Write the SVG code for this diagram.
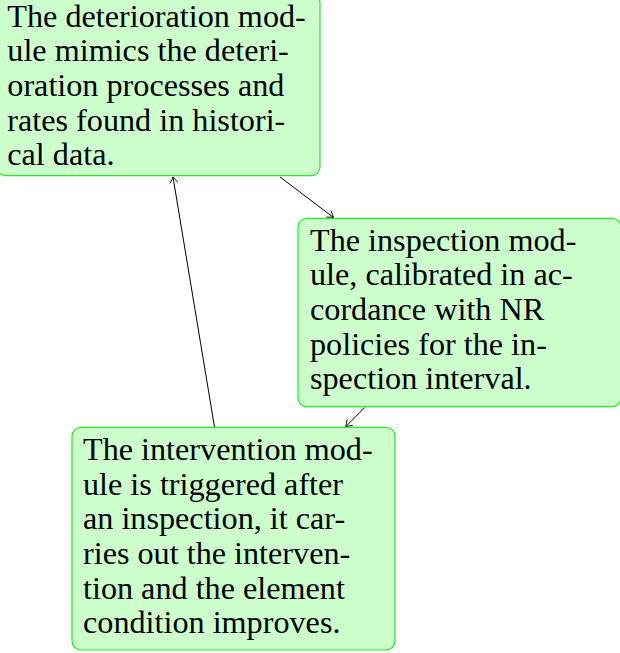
<svg xmlns="http://www.w3.org/2000/svg" width="620" height="653" viewBox="0 0 620 653">
<style>
.box{fill:#ccffcc;stroke:#22ee22;stroke-width:1.2}
.t{font-family:'Liberation Serif','DejaVu Serif',serif;font-size:32.2px;fill:#000}
.edge{stroke:#000;stroke-width:1;fill:none;marker-end:url(#arr)}
</style>
<defs>
<marker id="arr" markerUnits="userSpaceOnUse" markerWidth="12" markerHeight="12" viewBox="-8 -6 10 12" refX="0" refY="0" orient="auto">
<path d="M-6,-4 Q-2,-1 0,0 Q-2,1 -6,4" fill="none" stroke="#000" stroke-width="0.9"/>
</marker>
</defs>
<g id="edges">
<line class="edge" x1="280" y1="177" x2="333.5" y2="217.5"/>
<line class="edge" x1="365" y1="407.3" x2="345.7" y2="426.7"/>
<line class="edge" x1="214.5" y1="427" x2="173" y2="177"/>
</g>
<g id="deterioration">
<rect class="box" x="-3" y="-5.7" width="323" height="181.4" rx="9"/>
<text class="t" x="7.3" y="26.7">The deterioration mod-</text>
<text class="t" x="7.3" y="61.4">ule mimics the deteri-</text>
<text class="t" x="7.3" y="96">oration processes and</text>
<text class="t" x="7.3" y="130.7">rates found in histori-</text>
<text class="t" x="7.3" y="165.4">cal data.</text>
</g>
<g id="inspection">
<rect class="box" x="298" y="218.3" width="323" height="188.4" rx="9"/>
<text class="t" x="310" y="250.7">The inspection mod-</text>
<text class="t" x="310" y="285.4">ule, calibrated in ac-</text>
<text class="t" x="310" y="320">cordance with NR</text>
<text class="t" x="310" y="354.7">policies for the in-</text>
<text class="t" x="310" y="389.4">spection interval.</text>
</g>
<g id="intervention">
<rect class="box" x="72" y="427.3" width="323" height="222.7" rx="9"/>
<text class="t" x="83" y="460">The intervention mod-</text>
<text class="t" x="83" y="494.7">ule is triggered after</text>
<text class="t" x="83" y="529.4">an inspection, it car-</text>
<text class="t" x="83" y="564">ries out the interven-</text>
<text class="t" x="83" y="598.7">tion and the element</text>
<text class="t" x="83" y="633.4">condition improves.</text>
</g>
</svg>
